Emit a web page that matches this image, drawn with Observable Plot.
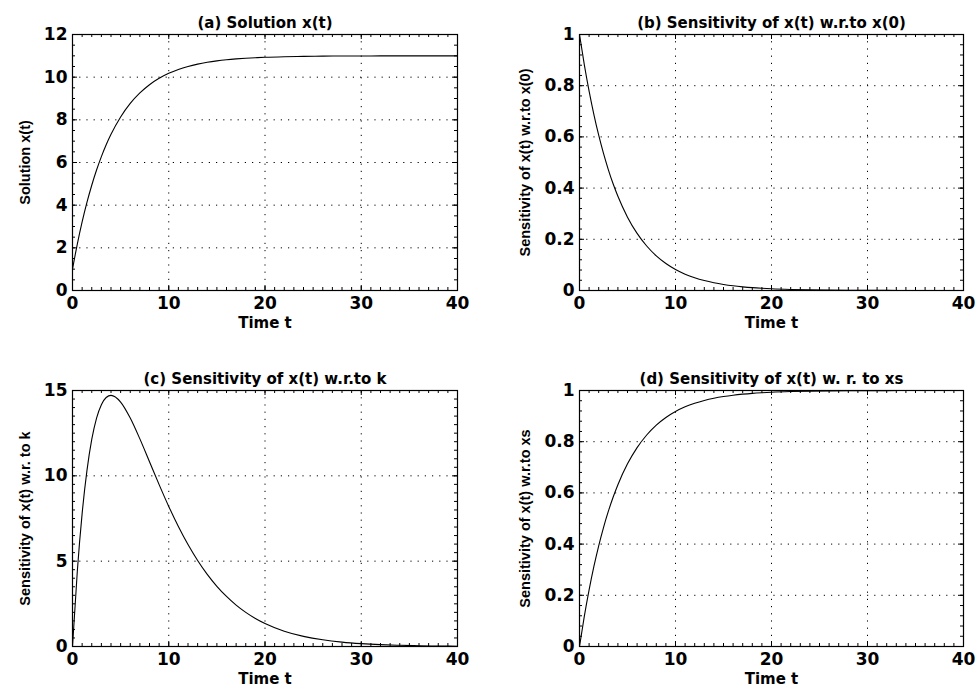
<!DOCTYPE html>
<html><head><meta charset="utf-8">
<script src="https://cdn.jsdelivr.net/npm/d3@7"></script>
<script src="https://cdn.jsdelivr.net/npm/@observablehq/plot@0.6"></script>
<style>
html,body{margin:0;padding:0;background:#fff;}
#root{position:relative;width:979px;height:690px;overflow:hidden;background:#fff;}
#root svg{position:absolute;}
</style></head><body><div id="root"></div>
<script>
// ---- data ----
const time = [0,0.5,1,1.5,2,2.5,3,3.5,4,5,6,7,8,9,10,11,12,13,14,15,16,17,18,19,20,22,24,26,28,30,32,34,36,38,40];
const solution = [1,2.175,3.212,4.127,4.935,5.647,6.276,6.831,7.321,8.135,8.769,9.262,9.647,9.946,10.179,10.361,10.502,10.612,10.698,10.765,10.817,10.857,10.889,10.913,10.933,10.959,10.975,10.985,10.991,10.994,10.997,10.998,10.999,10.999,11];
const sensX0 = [1,0.8825,0.7788,0.6873,0.6065,0.5353,0.4724,0.4169,0.3679,0.2865,0.2231,0.1738,0.1353,0.1054,0.0821,0.0639,0.0498,0.0388,0.0302,0.0235,0.0183,0.0143,0.0111,0.0087,0.0067,0.0041,0.0025,0.0015,0.0009,0.0006,0.0003,0.0002,0.0001,0.0001,0];
const sensK = [0,4.412,7.788,10.309,12.131,13.382,14.171,14.590,14.715,14.325,13.388,12.164,10.827,9.487,8.208,7.032,5.974,5.041,4.228,3.528,2.931,2.425,2.000,1.644,1.348,0.899,0.595,0.391,0.255,0.166,0.107,0.069,0.044,0.028,0.018];
const sensXs = [0,0.1175,0.2212,0.3127,0.3935,0.4647,0.5276,0.5831,0.6321,0.7135,0.7769,0.8262,0.8647,0.8946,0.9179,0.9361,0.9502,0.9612,0.9698,0.9765,0.9817,0.9857,0.9889,0.9913,0.9933,0.9959,0.9975,0.9985,0.9991,0.9994,0.9997,0.9998,0.9999,0.9999,1];

const xTicks = [0,10,20,30,40];
const yTicksA = [0,2,4,6,8,10,12];
const yTicksB = [0,0.2,0.4,0.6,0.8,1];
const yTicksC = [0,5,10,15];
const yTicksD = [0,0.2,0.4,0.6,0.8,1];

const titles = ["(a) Solution x(t)", "(b) Sensitivity of x(t) w.r.to x(0)", "(c) Sensitivity of x(t) w.r.to k", "(d) Sensitivity of x(t) w. r. to xs"];
const yLabels = ["Solution x(t)", "Sensitivity of x(t) w.r.to x(0)", "Sensitivity of x(t) w.r. to k", "Sensitivity of x(t) w.r.to xs"];
const xLabel = "Time t";

const root = document.getElementById("root");

function panel(o) {
  const innerW = o.width - o.mL - o.mR, innerH = o.height - o.mT - o.mB;
  const data = time.map((t, i) => ({t, v: o.values[i]}));
  const xMinor = d3.range(0, 40.0001, 1);
  const yMinor = d3.range(o.yDomain[0], o.yDomain[1] + 1e-9, o.yMinorStep);
  const majorLen = 5, minorLen = 3;
  const grid = {stroke: "black", strokeOpacity: 1, strokeWidth: 1, strokeDasharray: "1.2,6"};
  const svg = Plot.plot({
    width: o.width, height: o.height,
    marginLeft: o.mL, marginRight: o.mR, marginTop: o.mT, marginBottom: o.mB,
    style: {fontFamily: "'DejaVu Sans', sans-serif", background: "white", overflow: "visible", color: "black"},
    x: {domain: [0, 40]},
    y: {domain: o.yDomain},
    marks: [
      Plot.gridX(xTicks.slice(1, -1), grid),
      Plot.gridY(o.yTicks.slice(1, -1), grid),
      // minor ticks, inward, on all four sides
      Plot.tickX(xMinor, {x: d => d, insetTop: innerH - minorLen, stroke: "black"}),
      Plot.tickX(xMinor, {x: d => d, insetBottom: innerH - minorLen, stroke: "black"}),
      Plot.tickY(yMinor, {y: d => d, insetRight: innerW - minorLen, stroke: "black"}),
      Plot.tickY(yMinor, {y: d => d, insetLeft: innerW - minorLen, stroke: "black"}),
      // major ticks
      Plot.tickX(xTicks, {x: d => d, insetTop: innerH - majorLen, stroke: "black"}),
      Plot.tickX(xTicks, {x: d => d, insetBottom: innerH - majorLen, stroke: "black"}),
      Plot.tickY(o.yTicks, {y: d => d, insetRight: innerW - majorLen, stroke: "black"}),
      Plot.tickY(o.yTicks, {y: d => d, insetLeft: innerW - majorLen, stroke: "black"}),
      Plot.frame({stroke: "black", strokeWidth: 1.2}),
      Plot.line(data, {x: "t", y: "v", curve: "monotone-x", stroke: "black", strokeWidth: 1.1}),
      Plot.axisX(xTicks, {tickSize: 0, tickPadding: 6, fontSize: 17, fontWeight: "bold", label: null, tickFormat: d => `${d}`, fill: "black"}),
      Plot.axisY(o.yTicks, {tickSize: 0, tickPadding: 5, fontSize: 17, fontWeight: "bold", label: null, tickFormat: d => `${d}`, fill: "black"}),
      Plot.text([o.title], {text: d => d, frameAnchor: "top", dy: -17, fontSize: 15, fontWeight: "bold", fill: "black"}),
      Plot.text([xLabel], {text: d => d, frameAnchor: "bottom", dy: 37, fontSize: 15, fontWeight: "bold", fill: "black"}),
      Plot.text([o.yLabel], {text: d => d, frameAnchor: "left", textAnchor: "middle", dx: -o.yLabelOff, rotate: -90, fontSize: 14.5, fontWeight: "bold", fontFamily: "'Liberation Sans', Arial, sans-serif", fill: "black"})
    ]
  });
  svg.style.left = o.left + "px";
  svg.style.top = o.top + "px";
  root.appendChild(svg);
}

panel({values: solution, yDomain: [0, 12], yTicks: yTicksA, yMinorStep: 0.5, title: titles[0], yLabel: yLabels[0],
  left: 0, top: 0, width: 489, height: 345, mL: 72, mR: 32, mT: 34, mB: 55, yLabelOff: 47});
panel({values: sensX0, yDomain: [0, 1], yTicks: yTicksB, yMinorStep: 0.04, title: titles[1], yLabel: yLabels[1],
  left: 490, top: 0, width: 489, height: 345, mL: 89, mR: 16, mT: 34, mB: 55, yLabelOff: 54});
panel({values: sensK, yDomain: [0, 15], yTicks: yTicksC, yMinorStep: 0.5, title: titles[2], yLabel: yLabels[2],
  left: 0, top: 345, width: 489, height: 345, mL: 72, mR: 32, mT: 45, mB: 44, yLabelOff: 47});
panel({values: sensXs, yDomain: [0, 1], yTicks: yTicksD, yMinorStep: 0.04, title: titles[3], yLabel: yLabels[3],
  left: 490, top: 345, width: 489, height: 345, mL: 89, mR: 16, mT: 45, mB: 44, yLabelOff: 54});
</script>
</body></html>
